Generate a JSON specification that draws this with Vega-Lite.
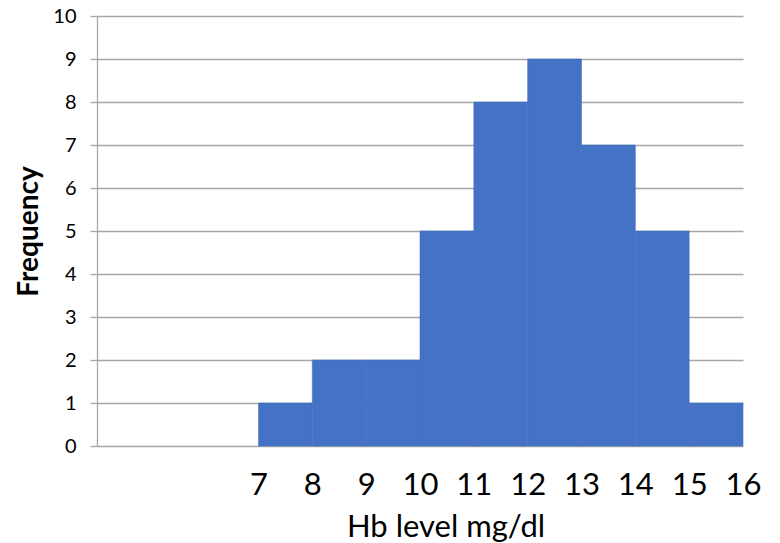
{
  "$schema": "https://vega.github.io/schema/vega-lite/v6.json",
  "width": 646,
  "height": 430,
  "autosize": {"type": "none"},
  "padding": {"left": 97, "top": 16, "right": 37, "bottom": 97},
  "background": "white",
  "config": {"view": {"stroke": null}, "font": "Lato"},
  "data": {
    "values": [
      {"bin_start": 7, "bin_end": 8, "frequency": 1},
      {"bin_start": 8, "bin_end": 9, "frequency": 2},
      {"bin_start": 9, "bin_end": 10, "frequency": 2},
      {"bin_start": 10, "bin_end": 11, "frequency": 5},
      {"bin_start": 11, "bin_end": 12, "frequency": 8},
      {"bin_start": 12, "bin_end": 13, "frequency": 9},
      {"bin_start": 13, "bin_end": 14, "frequency": 7},
      {"bin_start": 14, "bin_end": 15, "frequency": 5},
      {"bin_start": 15, "bin_end": 16, "frequency": 1}
    ]
  },
  "mark": {"type": "rect", "color": "#4472C4", "stroke": "#4472C4", "strokeWidth": 0.6},
  "encoding": {
    "x": {
      "field": "bin_start",
      "type": "quantitative",
      "scale": {"domain": [4, 16], "nice": false, "zero": false},
      "axis": {
        "values": [7, 8, 9, 10, 11, 12, 13, 14, 15, 16],
        "title": "Hb level mg/dl",
        "grid": false,
        "ticks": false,
        "domain": false,
        "labelFontSize": 31,
        "labelColor": "#000000",
        "labelPadding": 24,
        "labelFlush": false,
        "labelOverlap": false,
        "titleFontSize": 31,
        "titleFontWeight": "normal",
        "titleColor": "#000000",
        "titlePadding": 12,
        "titleX": 348.5
      }
    },
    "x2": {"field": "bin_end"},
    "y": {
      "field": "frequency",
      "type": "quantitative",
      "scale": {"domain": [0, 10], "nice": false},
      "axis": {
        "values": [0, 1, 2, 3, 4, 5, 6, 7, 8, 9, 10],
        "title": "Frequency",
        "grid": true,
        "gridColor": "#a6a6a6",
        "gridWidth": 1.3,
        "tickColor": "#a6a6a6",
        "tickSize": 7,
        "tickWidth": 1.3,
        "domainColor": "#a6a6a6",
        "domainWidth": 1.3,
        "labelFontSize": 20,
        "labelPadding": 14,
        "labelColor": "#000000",
        "titleFontSize": 28,
        "titleFontWeight": "bold",
        "titleColor": "#000000",
        "titlePadding": 9
      }
    },
    "y2": {"datum": 0}
  }
}
